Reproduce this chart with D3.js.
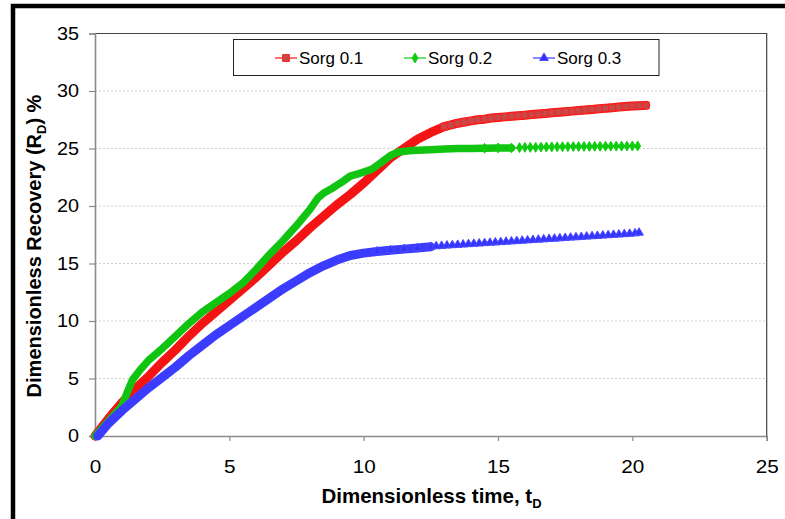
<!DOCTYPE html>
<html>
<head>
<meta charset="utf-8">
<script src="https://cdn.jsdelivr.net/npm/d3@7"></script>
<style>
  body { margin: 0; background: #fff; }
  svg { display: block; font-family: Arial, "Liberation Sans", sans-serif; }
</style>
</head>
<body>
<div id="chart"></div>
<script>
// values
const seriesNames = ['Sorg 0.1', 'Sorg 0.2', 'Sorg 0.3'];

const sorg01T = [0, 0.5, 1, 1.5, 2, 2.5, 3, 3.5, 4, 4.5, 5, 5.5, 6, 6.5, 7, 7.5, 8, 8.5, 9, 9.5, 10, 10.5, 11, 11.5, 12, 12.5, 13,
  13.25, 13.5, 13.75, 14, 14.25, 14.5, 14.75, 15, 15.25, 15.5, 15.75, 16, 16.25, 16.5, 16.75, 17, 17.25, 17.5, 17.75,
  18, 18.25, 18.5, 18.75, 19, 19.25, 19.5, 19.75, 20, 20.25, 20.5];
const sorg01R = [0, 1.5, 2.9, 4.1, 5.2, 6.4, 7.5, 8.7, 9.8, 10.8, 11.8, 12.8, 13.8, 14.9, 16.0, 17.0, 18.1, 19.1, 20.1, 21.0, 22.0, 23.1, 24.2, 25.0, 25.8, 26.4, 26.9,
  27.05, 27.2, 27.3, 27.4, 27.5, 27.55, 27.65, 27.7, 27.75, 27.8, 27.85, 27.9, 27.95, 28.0, 28.05, 28.1, 28.15, 28.2, 28.25,
  28.3, 28.35, 28.4, 28.45, 28.5, 28.55, 28.6, 28.65, 28.7, 28.72, 28.75];

const sorg02T = [0, 0.5, 1.0, 1.2, 1.4, 1.7, 2.0, 2.5, 3, 3.5, 4, 4.5, 5, 5.5, 6, 6.5, 7, 7.5, 8, 8.3, 8.5, 8.8, 9.2, 9.5, 10, 10.3, 10.6, 11, 11.3, 11.7,
  12, 12.5, 13, 13.5, 14, 14.5, 15, 15.5,
  15.8, 16.0, 16.2, 16.4, 16.6, 16.8, 17.0, 17.2, 17.4, 17.6, 17.8, 18.0, 18.2, 18.4, 18.6, 18.8, 19.0, 19.2, 19.4, 19.6, 19.8, 20.0, 20.2];
const sorg02R = [0, 1.3, 2.6, 3.8, 4.9, 5.8, 6.6, 7.6, 8.7, 9.8, 10.8, 11.6, 12.4, 13.3, 14.5, 15.8, 17.0, 18.3, 19.7, 20.7, 21.1, 21.5, 22.1, 22.6, 22.95, 23.2, 23.7, 24.4, 24.7, 24.8,
  24.85, 24.9, 24.95, 25.0, 25.0, 25.02, 25.05, 25.05,
  25.08, 25.1, 25.1, 25.1, 25.12, 25.13, 25.14, 25.15, 25.15, 25.16, 25.17, 25.17, 25.18, 25.18, 25.19, 25.19, 25.2, 25.2, 25.2, 25.21, 25.21, 25.22, 25.22];

const sorg03T = [0.1, 0.5, 1, 1.5, 2, 2.5, 3, 3.5, 4, 4.5, 5, 5.5, 6, 6.5, 7, 7.5, 8, 8.5, 9, 9.5, 10, 10.5, 11, 11.5, 12, 12.5,
  12.7, 12.9, 13.1, 13.3, 13.5, 13.7, 13.9, 14.1, 14.3, 14.5, 14.7, 14.9, 15.1, 15.3, 15.5, 15.7, 15.9, 16.1, 16.3, 16.5,
  16.7, 16.9, 17.1, 17.3, 17.5, 17.7, 17.9, 18.1, 18.3, 18.5, 18.7, 18.9, 19.1, 19.3, 19.5, 19.7, 19.9, 20.1, 20.25];
const sorg03R = [0, 1.1, 2.2, 3.2, 4.2, 5.1, 6.0, 7.0, 7.9, 8.8, 9.6, 10.4, 11.2, 12.0, 12.8, 13.5, 14.2, 14.8, 15.3, 15.7, 15.9, 16.05, 16.15, 16.25, 16.35, 16.45,
  16.5, 16.53, 16.56, 16.59, 16.62, 16.65, 16.68, 16.71, 16.74, 16.77, 16.8, 16.83, 16.86, 16.89, 16.92, 16.95, 16.98, 17.01, 17.04, 17.07,
  17.1, 17.13, 17.16, 17.19, 17.22, 17.25, 17.28, 17.31, 17.34, 17.37, 17.4, 17.43, 17.46, 17.49, 17.52, 17.55, 17.58, 17.62, 17.68];

const xTicks = [0, 5, 10, 15, 20, 25];
const yTicks = [0, 5, 10, 15, 20, 25, 30, 35];

const width = 785, height = 519;
const x0 = 95, x1 = 766.7, yTop = 33.5, yBot = 436;

const svg = d3.select('#chart').append('svg')
  .attr('width', width)
  .attr('height', height);

const x = d3.scaleLinear().domain([0, 25]).range([x0, x1]);
const y = d3.scaleLinear().domain([0, 35]).range([yBot, yTop]);

// outer frame (top and left edges only are visible)
svg.append('path')
  .attr('d', `M13,${height} L13,6 L${width},6`)
  .attr('fill', 'none')
  .attr('stroke', '#000')
  .attr('stroke-width', 4.5);

// gridlines
svg.append('g')
  .selectAll('line')
  .data(yTicks.filter(v => v > 0 && v < 35))
  .enter()
  .append('line')
  .attr('x1', x0)
  .attr('x2', x1)
  .attr('y1', d => y(d))
  .attr('y2', d => y(d))
  .attr('stroke', '#d0d0d0')
  .attr('stroke-dasharray', '2,2');

// plot border, top and right
svg.append('path')
  .attr('d', `M${x0},${yTop} L${x1},${yTop} L${x1},${yBot}`)
  .attr('fill', 'none')
  .attr('stroke', '#444')
  .attr('stroke-width', 1.2);

const xAxis = svg.append('g')
  .attr('transform', `translate(0,${yBot})`)
  .call(d3.axisBottom(x).tickValues(xTicks).tickSize(5).tickPadding(19).tickFormat(d3.format('d')));
xAxis.selectAll('text')
  .attr('transform', 'scale(1.15,1)')
  .style('font-size', '18px')
  .attr('fill', '#000');

const yAxis = svg.append('g')
  .attr('transform', `translate(${x0},0)`)
  .call(d3.axisLeft(y).tickValues(yTicks).tickSize(6).tickPadding(10).tickFormat(d3.format('d')));
yAxis.selectAll('text')
  .attr('x', -16 / 1.1)
  .attr('transform', 'scale(1.1,1)')
  .style('font-size', '18px')
  .attr('fill', '#000');

[xAxis, yAxis].forEach(a => {
  a.select('.domain').attr('stroke', '#8a8a8a').attr('stroke-width', 1.6);
  a.selectAll('.tick line').attr('stroke', '#8a8a8a').attr('stroke-width', 1.2);
});

const series = [
  { t: sorg01T, r: sorg01R, line: '#f41414', fill: '#c84848', stroke: '#ff2020', shape: d3.symbolSquare, size: 46, width: 9, thickTo: 21, markFrom: 12.9 },
  { t: sorg02T, r: sorg02R, line: '#12c412', fill: '#10cc10', stroke: '#10cc10', shape: d3.symbolDiamond, size: 28, width: 7.5, thickTo: 15.6, markFrom: 14.4 },
  { t: sorg03T, r: sorg03R, line: '#3c3cff', fill: '#3434ff', stroke: '#4a4aff', shape: d3.symbolTriangle, size: 32, width: 9, thickTo: 12.6, markFrom: 10.4 }
];

const line = d3.line()
  .x(d => x(d[0]))
  .y(d => y(d[1]));

series.forEach(s => {
  const pts = d3.zip(s.t, s.r);
  const g = svg.append('g');

  g.append('path')
    .attr('d', line(pts.filter(p => p[0] <= s.thickTo)))
    .attr('fill', 'none')
    .attr('stroke', s.line)
    .attr('stroke-width', s.width)
    .attr('stroke-linejoin', 'round')
    .attr('stroke-linecap', 'round');

  g.append('path')
    .attr('d', line(pts))
    .attr('fill', 'none')
    .attr('stroke', s.line)
    .attr('stroke-width', 1.5);

  g.selectAll('.marker')
    .data(pts.filter(p => p[0] >= s.markFrom))
    .enter()
    .append('path')
    .attr('class', 'marker')
    .attr('d', d3.symbol(s.shape, s.size))
    .attr('transform', d => `translate(${x(d[0])},${y(d[1])})`)
    .attr('fill', s.fill)
    .attr('stroke', s.stroke)
    .attr('stroke-width', 1);
});

// legend
const legend = svg.append('g');
legend.append('rect')
  .attr('x', 233.5)
  .attr('y', 39.5)
  .attr('width', 425.5)
  .attr('height', 36)
  .attr('fill', '#fff')
  .attr('stroke', '#222')
  .attr('stroke-width', 1);

const legendX = [275, 404, 533];
series.forEach((s, i) => {
  const lx = legendX[i];
  legend.append('line')
    .attr('x1', lx)
    .attr('x2', lx + 22)
    .attr('y1', 58)
    .attr('y2', 58)
    .attr('stroke', s.line)
    .attr('stroke-width', 1.2);
  legend.append('path')
    .attr('d', d3.symbol(s.shape, s.size)())
    .attr('transform', `translate(${lx + 11},58)`)
    .attr('fill', s.fill)
    .attr('stroke', s.stroke)
    .attr('stroke-width', 1);
  legend.append('text')
    .attr('x', lx + 24)
    .attr('y', 64)
    .style('font-size', '17px')
    .attr('fill', '#000')
    .text(seriesNames[i]);
});

// axis titles
const xTitle = svg.append('text')
  .attr('x', 431.5)
  .attr('y', 503)
  .attr('text-anchor', 'middle')
  .style('font-size', '20.5px')
  .style('font-weight', 'bold');
xTitle.append('tspan').text('Dimensionless time, t');
xTitle.append('tspan').attr('dy', 5).style('font-size', '13px').text('D');

const yTitle = svg.append('text')
  .attr('transform', 'translate(41,246) rotate(-90)')
  .attr('text-anchor', 'middle')
  .style('font-size', '20px')
  .style('font-weight', 'bold');
yTitle.append('tspan').text('Dimensionless Recovery (R');
yTitle.append('tspan').attr('dy', 5).style('font-size', '13px').text('D');
yTitle.append('tspan').attr('dy', -5).text(') %');
</script>
</body>
</html>
